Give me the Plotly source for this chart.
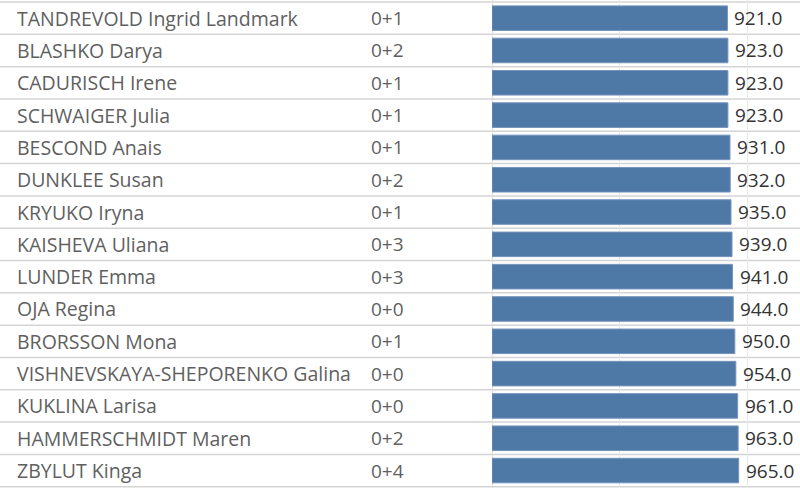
import plotly.graph_objects as go

names = ["TANDREVOLD Ingrid Landmark", "BLASHKO Darya", "CADURISCH Irene", "SCHWAIGER Julia",
         "BESCOND Anais", "DUNKLEE Susan", "KRYUKO Iryna", "KAISHEVA Uliana", "LUNDER Emma",
         "OJA Regina", "BRORSSON Mona", "VISHNEVSKAYA-SHEPORENKO Galina", "KUKLINA Larisa",
         "HAMMERSCHMIDT Maren", "ZBYLUT Kinga"]
shooting = ["0+1", "0+2", "0+1", "0+1", "0+1", "0+2", "0+1", "0+3", "0+3", "0+0", "0+1",
            "0+0", "0+0", "0+2", "0+4"]
values = [921, 923, 923, 923, 931, 932, 935, 939, 941, 944, 950, 954, 961, 963, 965]

n = len(names)
rows = list(range(n))
FONT = "Open Sans"
FS = 19

fig = go.Figure()
fig.add_trace(go.Bar(
    x=values, y=rows, orientation="h",
    marker=dict(color="#4e79a7", line=dict(color="#7593bb", width=1)),
    width=0.76, hoverinfo="skip",
))

for i in rows:
    fig.add_annotation(x=17/800, y=i, xref="paper", yref="y", text=names[i], showarrow=False,
                       xanchor="left", yanchor="middle", xshift=-2,
                       font=dict(family=FONT, size=19.5, color="#5f5f5f"))
    fig.add_annotation(x=371/800, y=i, xref="paper", yref="y", text=shooting[i], showarrow=False,
                       xanchor="left", yanchor="middle", xshift=-2,
                       font=dict(family=FONT, size=FS, color="#5f5f5f"))
    fig.add_annotation(x=values[i], y=i, xref="x", yref="y", text=f"{values[i]:.1f}", showarrow=False,
                       xanchor="left", yanchor="middle", xshift=5,
                       font=dict(family=FONT, size=FS, color="#333333"))

for k in range(n + 1):
    fig.add_shape(type="line", xref="paper", yref="y", x0=0, x1=1, y0=k - 0.5, y1=k - 0.5,
                  line=dict(color="#d4d4d4", width=1.5), layer="below")

fig.update_layout(
    width=800, height=488, margin=dict(l=0, r=0, t=0, b=0),
    paper_bgcolor="white", plot_bgcolor="white", showlegend=False,
    xaxis=dict(domain=[492/800, 1], range=[0, 1205], dtick=500, showticklabels=False,
               showgrid=True, gridcolor="#e8e8e8", gridwidth=1,
               zeroline=True, zerolinecolor="#dcdcdc", zerolinewidth=1),
    yaxis=dict(range=[14.54, -0.562], showticklabels=False, showgrid=False, zeroline=False),
)
fig.write_html("out.html", post_script="document.body.style.margin='0';",
               config={"displayModeBar": False})
